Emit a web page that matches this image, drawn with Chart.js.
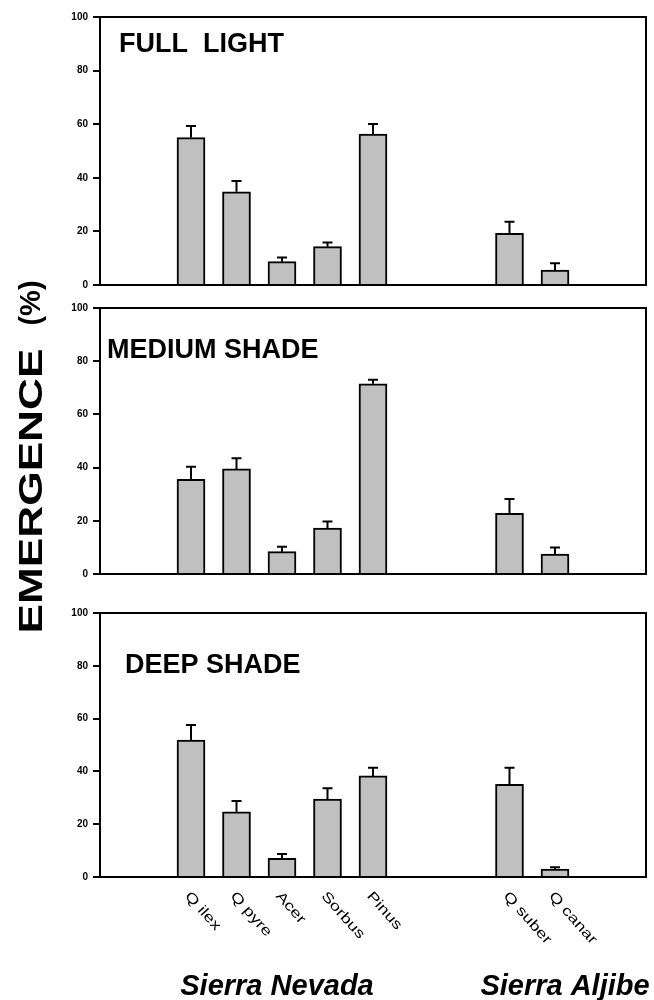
<!DOCTYPE html>
<html>
<head>
<meta charset="utf-8">
<script src="https://cdn.jsdelivr.net/npm/chart.js@4.4.0/dist/chart.umd.min.js"></script>
<style>
  body { margin: 0; background: #fff; }
  #wrap { position: relative; width: 654px; height: 1000px; overflow: hidden; }
  canvas { position: absolute; left: 0; }
  .ytitle {
    position: absolute; font: bold 34px Arial, "Liberation Sans", sans-serif;
    white-space: nowrap; color: #000;
    transform: translate(-50%, -50%) rotate(-90deg) scaleX(1.3);
  }
  .ytitle.pct { font-size: 29px; transform: translate(-50%, -50%) rotate(-90deg); }
</style>
</head>
<body>
<div id="wrap">
  <canvas id="p1" width="654" height="300" style="top:0"></canvas>
  <canvas id="p2" width="654" height="300" style="top:297px"></canvas>
  <canvas id="p3" width="654" height="400" style="top:600px"></canvas>
  <div class="ytitle" style="left:30px; top:491px">EMERGENCE</div>
  <div class="ytitle pct" style="left:30px; top:303px">(%)</div>
</div>
<script>
// Data
const categories = ['', '', 'Q ilex', 'Q pyre', 'Acer', 'Sorbus', 'Pinus', '', '', 'Q suber', 'Q canar', '', ''];
const yTicks = [0, 20, 40, 60, 80, 100];

const fullLight = [null, null, 55.0, 34.8, 8.7, 14.3, 56.3, null, null, 19.3, 5.6, null, null];
const fullLightErr = [null, null, 4.3, 4.0, 1.6, 1.6, 3.8, null, null, 4.3, 2.5, null, null];

const mediumShade = [null, null, 35.6, 39.5, 8.4, 17.3, 71.5, null, null, 22.8, 7.5, null, null];
const mediumShadeErr = [null, null, 4.7, 4.0, 1.8, 2.4, 1.5, null, null, 5.4, 2.5, null, null];

const deepShade = [null, null, 51.9, 24.7, 7.1, 29.5, 38.3, null, null, 35.1, 3.0, null, null];
const deepShadeErr = [null, null, 5.7, 4.1, 1.6, 4.1, 3.1, null, null, 6.3, 0.7, null, null];

const FONT = 'Arial, "Liberation Sans", sans-serif';

// Error bars (upper whisker only)
const errorBars = {
    id: 'errorBars',
    afterDatasetsDraw(chart, args, opts) {
        const ctx = chart.ctx;
        const y = chart.scales.y;
        const meta = chart.getDatasetMeta(0);
        const errs = chart.data.datasets[0].errors;
        ctx.save();
        ctx.strokeStyle = '#000';
        ctx.lineWidth = 2;
        meta.data.forEach((bar, i) => {
            const v = chart.data.datasets[0].data[i];
            if (v == null || errs[i] == null) return;
            const top = y.getPixelForValue(v + errs[i]);
            ctx.beginPath();
            ctx.moveTo(bar.x, bar.y);
            ctx.lineTo(bar.x, top);
            ctx.moveTo(bar.x - 5, top);
            ctx.lineTo(bar.x + 5, top);
            ctx.stroke();
        });
        ctx.restore();
    }
};

// Frame (top + right sides) and panel title
const frame = {
    id: 'frame',
    afterDraw(chart, args, opts) {
        const ctx = chart.ctx;
        const a = chart.chartArea;
        ctx.save();
        ctx.strokeStyle = '#000';
        ctx.lineWidth = 2;
        ctx.beginPath();
        ctx.moveTo(a.left, a.top);
        ctx.lineTo(a.right, a.top);
        ctx.lineTo(a.right, a.bottom);
        ctx.stroke();
        ctx.fillStyle = '#000';
        ctx.font = 'bold 27px ' + FONT;
        ctx.textBaseline = 'alphabetic';
        ctx.fillText(opts.text, opts.x, opts.y);
        ctx.restore();
    }
};

// Slanted category labels and site names (bottom panel only)
const bottomLabels = {
    id: 'bottomLabels',
    afterDraw(chart, args, opts) {
        if (!opts.show) return;
        const ctx = chart.ctx;
        const x = chart.scales.x;
        const bottom = chart.chartArea.bottom;
        ctx.save();
        ctx.fillStyle = '#000';
        ctx.font = '14px ' + FONT;
        ctx.textBaseline = 'middle';
        ctx.textAlign = 'left';
        categories.forEach((c, i) => {
            if (!c) return;
            ctx.save();
            ctx.translate(x.getPixelForValue(i) - 4, bottom + 17);
            ctx.rotate(48 * Math.PI / 180);
            ctx.scale(1.3, 1);
            ctx.fillText(c, 0, 0);
            ctx.restore();
        });
        ctx.font = 'italic bold 29px ' + FONT;
        ctx.textAlign = 'center';
        ctx.textBaseline = 'alphabetic';
        ctx.fillText('Sierra Nevada', 277, 395);
        ctx.fillText('Sierra Aljibe', 565, 395);
        ctx.restore();
    }
};

function makePanel(id, values, errors, title, pad, xHeight, showLabels) {
    return new Chart(document.getElementById(id), {
        type: 'bar',
        data: {
            labels: categories,
            datasets: [{
                data: values,
                errors: errors,
                backgroundColor: '#c0c0c0',
                borderColor: '#000',
                borderWidth: 2,
                barThickness: 28
            }]
        },
        options: {
            responsive: false,
            animation: false,
            layout: { padding: { top: pad, right: 8, left: 0, bottom: 0 } },
            plugins: {
                legend: { display: false },
                tooltip: { enabled: false },
                frame: title,
                bottomLabels: { show: showLabels }
            },
            scales: {
                x: {
                    offset: false,
                    grid: { display: false },
                    border: { color: '#000', width: 2 },
                    ticks: { display: false },
                    afterFit: (s) => { s.height = xHeight; }
                },
                y: {
                    min: 0,
                    max: 100,
                    afterBuildTicks: (s) => { s.ticks = yTicks.map(v => ({ value: v })); },
                    grid: { drawOnChartArea: false, drawTicks: true, tickLength: 7, color: '#000', lineWidth: 2 },
                    border: { color: '#000', width: 2 },
                    ticks: { color: '#000', padding: 5, font: { family: FONT, size: 10, weight: 'bold' } },
                    afterFit: (s) => { s.width = 100; }
                }
            }
        },
        plugins: [errorBars, frame, bottomLabels]
    });
}

makePanel('p1', fullLight, fullLightErr, { text: 'FULL  LIGHT', x: 119, y: 52 }, 17, 15, false);
makePanel('p2', mediumShade, mediumShadeErr, { text: 'MEDIUM SHADE', x: 107, y: 61 }, 11, 23, false);
makePanel('p3', deepShade, deepShadeErr, { text: 'DEEP SHADE', x: 125, y: 73 }, 13, 123, true);
</script>
</body>
</html>
